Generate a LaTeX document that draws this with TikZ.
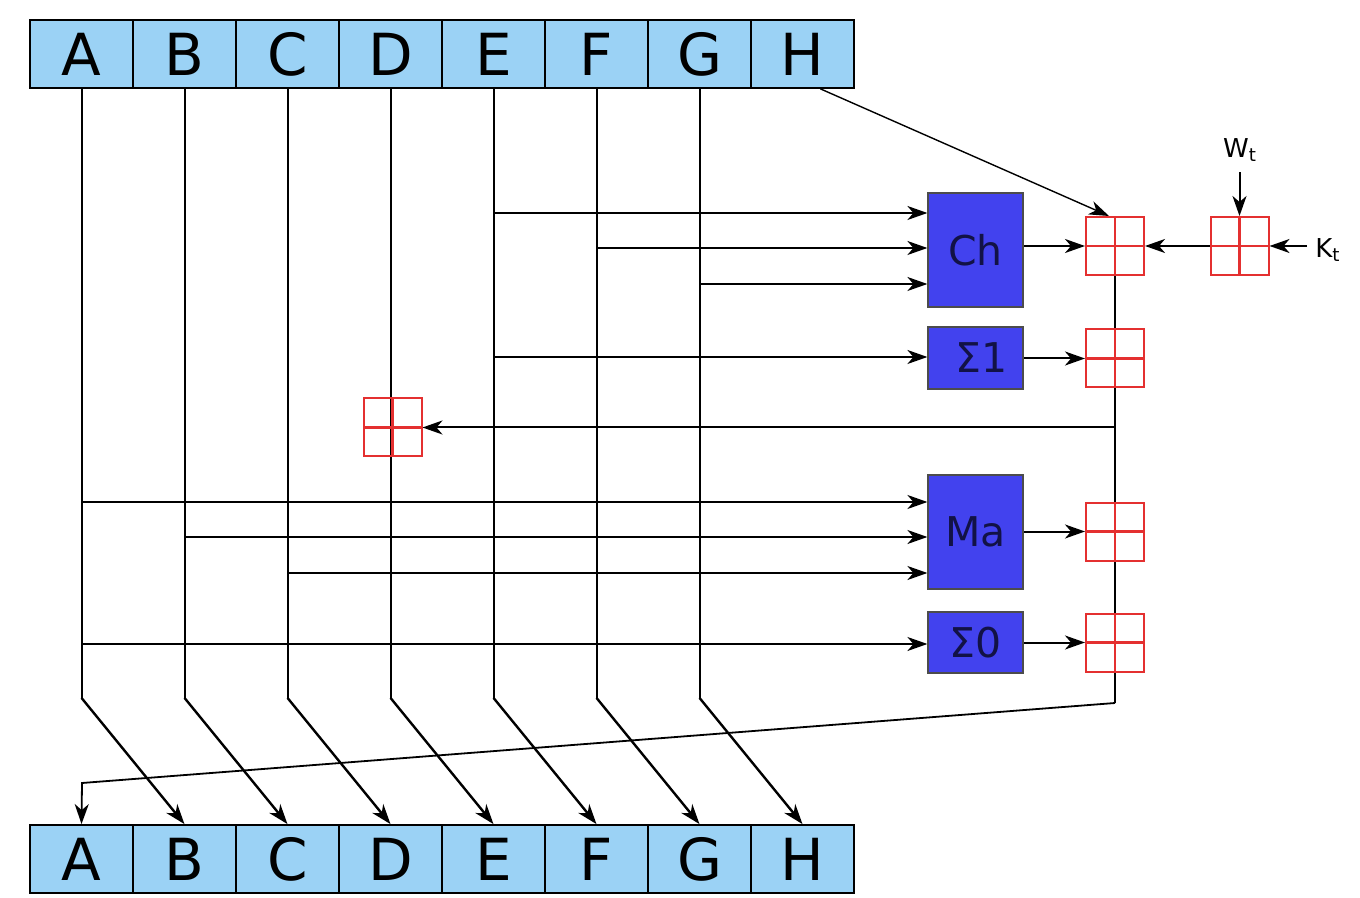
\documentclass[tikz,border=0pt]{standalone}
\usepackage{fontspec}
\setmainfont{DejaVu Sans}
\usetikzlibrary{arrows.meta,backgrounds}
\definecolor{regblue}{RGB}{155,210,245}
\definecolor{fblue}{RGB}{66,66,238}
\definecolor{ftext}{RGB}{18,18,70}
\definecolor{addred}{RGB}{228,48,48}
\begin{document}
\begin{tikzpicture}[x=0.5pt,y=-0.5pt,
  >={Stealth[length=10pt,width=7pt,inset=3pt]},
  reg/.style={draw=black,line width=0.9pt,fill=regblue,minimum width=51.5pt,minimum height=34pt,inner sep=0pt,font=\fontsize{29}{30}\selectfont},
  fbox/.style={draw=black!70,line width=0.6pt,fill=fblue,text=ftext,minimum width=47.5pt,inner sep=0pt,font=\fontsize{20.5}{22}\selectfont},
  adder/.style={draw=addred,line width=1pt,minimum size=29pt,inner sep=0pt,
    path picture={\draw[addred,line width=1.1pt] (path picture bounding box.north)--(path picture bounding box.south) (path picture bounding box.west)--(path picture bounding box.east);}},
  wire/.style={line width=1pt},
  diag/.style={line width=1.2pt},
  thinwire/.style={line width=0.7pt},
  lbl/.style={inner sep=1pt,font=\fontsize{13}{15}\selectfont}]
\useasboundingbox (0,0) rectangle (1360,898);

% registers
\foreach \l [count=\i from 0] in {A,B,C,D,E,F,G,H} {
  \node[reg] (t\l) at (81.5+103*\i,54) {\l};
  \node[reg] (b\l) at (81.5+103*\i,859) {\l};
}

% function boxes
\node[fbox,minimum height=57pt] (Ch) at (975.5,250) {Ch};
\node[fbox,minimum height=31pt] (S1) at (975.5,358) {\hspace{6pt}Σ1};
\node[fbox,minimum height=57pt] (Ma) at (975.5,532) {Ma};
\node[fbox,minimum height=30.5pt] (S0) at (975.5,642.5) {Σ0};

% adders
\node[adder] (a1) at (1115,246) {};
\node[adder] (a2) at (1115,358.5) {};
\node[adder] (a3) at (1115,531.5) {};
\node[adder] (a4) at (1115,642.5) {};
\node[adder] (aw) at (1239.5,246) {};
\node[adder] (ad) at (392.5,427.5) {};

% labels
\node[lbl] (Wt) at (1240,150) {W\textsubscript{t}};
\node[lbl,anchor=west] (Kt) at (1313,250) {K\textsubscript{t}};

\coordinate (c1) at (1115,703);
\coordinate (c2) at (82,783);

\begin{scope}[on background layer]
% vertical wires and shifts
\foreach \s/\d in {A/B,B/C,C/D,D/E,E/F,F/G,G/H}
  \draw[wire] (t\s.south) -- ++(0,609) coordinate (k\s);
\foreach \s/\d in {A/B,B/C,C/D,D/E,E/F,F/G,G/H}
  \draw[diag,->] (k\s) -- (b\d.north);

% inputs to Ch
\draw[wire,->] (tE.south |- 0,213) -- (Ch.west |- 0,213);
\draw[wire,->] (tF.south |- 0,248) -- (Ch.west |- 0,248);
\draw[wire,->] (tG.south |- 0,284) -- (Ch.west |- 0,284);
% input to S1
\draw[wire,->] (tE.south |- 0,357) -- (S1.west |- 0,357);
% inputs to Ma
\draw[wire,->] (tA.south |- 0,502) -- (Ma.west |- 0,502);
\draw[wire,->] (tB.south |- 0,537) -- (Ma.west |- 0,537);
\draw[wire,->] (tC.south |- 0,573) -- (Ma.west |- 0,573);
% input to S0
\draw[wire,->] (tA.south |- 0,644) -- (S0.west |- 0,644);

% box outputs
\draw[wire,->] (Ch.east |- a1) -- (a1.west);
\draw[wire,->] (S1.east |- a2) -- (a2.west);
\draw[wire,->] (Ma.east |- a3) -- (a3.west);
\draw[wire,->] (S0.east |- a4) -- (a4.west);

% W, K
\draw[wire,->] ([yshift=-4pt]Wt.south -| aw) -- (aw.north);
\draw[wire,->] ([xshift=-3pt]Kt.west |- aw) -- (aw.east);
\draw[wire,->] (aw.west) -- (a1.east);

% H into first adder
\draw[thinwire,->] ([xshift=9pt]tH.south) -- ([xshift=-3pt]a1.north);

% main column
\draw[line width=1.1pt] (a1.south) -- (c1);
\draw[wire,->] (a1 |- ad.east) -- (ad.east);
\draw[line width=0.9pt,->] (c1) -- (c2) -- (bA.north);
\end{scope}
\end{tikzpicture}
\end{document}
